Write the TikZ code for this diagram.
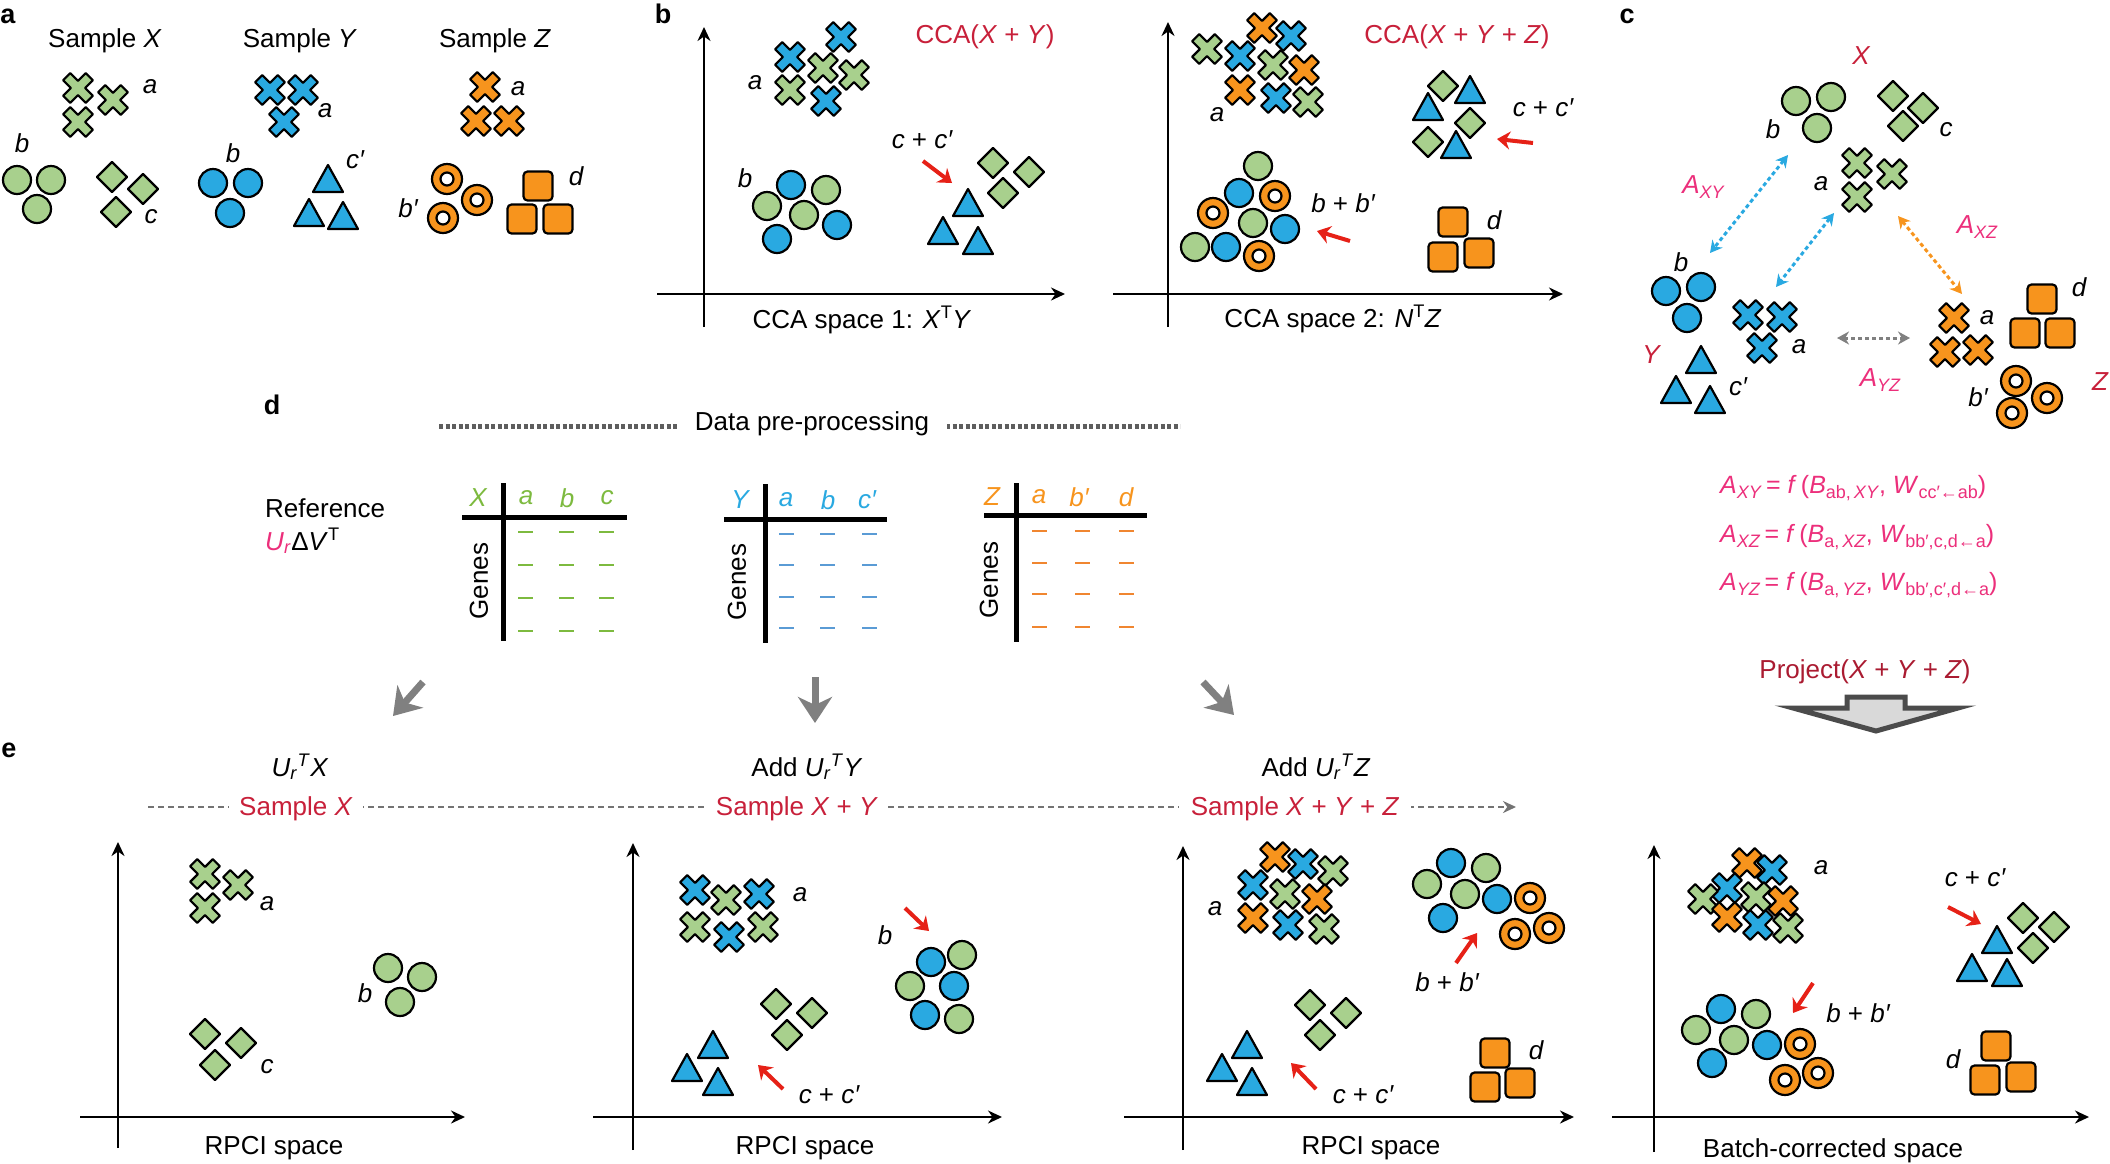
\documentclass[tikz,border=0pt]{standalone}
\usepackage{fontspec}
\setmainfont{Liberation Sans}
\usepackage{xcolor}
\usetikzlibrary{arrows.meta}

\definecolor{grn}{HTML}{A8D08D}
\definecolor{blu}{HTML}{29A9E1}
\definecolor{org}{HTML}{F7941D}
\definecolor{crim}{HTML}{C8203A}
\definecolor{pnk}{HTML}{EC2F7B}
\definecolor{arred}{HTML}{E62117}
\definecolor{tgrn}{HTML}{7DBA3F}
\definecolor{tblu}{HTML}{5A9BD5}
\definecolor{torg}{HTML}{F08630}
\definecolor{dgray}{HTML}{5E5E5E}
\definecolor{lgray}{HTML}{D9D9D9}

\newcommand{\sbs}[1]{\raisebox{-5pt}{\fontsize{18}{20}\selectfont #1}}
\newcommand{\UrT}{\textit{U}\textsubscript{\textit{r}}\textsuperscript{\textit{T}}}

\begin{document}
\begin{tikzpicture}[x=1pt, y=-1pt,
    txt/.style={font=\fontsize{26}{30}\selectfont, inner sep=0pt},
    lab/.style={font=\fontsize{26}{30}\selectfont\itshape, inner sep=0pt},
    pnl/.style={font=\fontsize{27}{30}\selectfont\bfseries, inner sep=0pt},
    eqn/.style={font=\fontsize{25}{30}\selectfont, text=pnk, inner sep=0pt, anchor=base west},
    mk/.style={draw=black, line width=2.2pt, line join=round},
    axis/.style={line width=2.6pt, -{Stealth[length=14pt,width=13pt]}},
    redar/.style={draw=arred, line width=4pt, -{Stealth[length=13pt,width=18pt]}},
    dbl/.style={line width=3pt, dash pattern=on 4pt off 3pt, {Stealth[length=12pt,width=13pt]}-{Stealth[length=12pt,width=13pt]}},
    grar/.style={draw=gray, line width=7pt, -{Stealth[length=26pt,width=34pt,inset=8pt]}},
    cell/.style={line width=2.5pt},
    pics/xc/.style={code={\draw[mk, fill=#1, rotate=45] (-5,-16) -- (5,-16) -- (5,-5) -- (16,-5) -- (16,5) -- (5,5) -- (5,16) -- (-5,16) -- (-5,5) -- (-16,5) -- (-16,-5) -- (-5,-5) -- cycle;}},
    pics/ci/.style={code={\draw[mk, fill=#1] (0,0) circle (14pt);}},
    pics/rg/.style={code={\draw[mk, fill=#1] (0,0) circle (15pt); \draw[mk, fill=white] (0,0) circle (6.5pt);}},
    pics/dm/.style={code={\draw[mk, fill=#1] (0,-15) -- (15,0) -- (0,15) -- (-15,0) -- cycle;}},
    pics/tr/.style={code={\draw[mk, fill=#1] (-15,12) -- (15,12) -- (0,-15) -- cycle;}},
    pics/sq/.style={code={\draw[mk, fill=#1, rounded corners=4pt] (-14.5,-14.5) rectangle (14.5,14.5);}}]

    \path[use as bounding box, fill=white] (0,0) rectangle (2110,1163);

    % panel a
    \node[pnl] (pa) at (8,16) {a};
    \node[txt, anchor=base] (ttlX) at (105,47) {Sample \textit{X}};
    \node[txt, anchor=base] (ttlY) at (300,47) {Sample \textit{Y}};
    \node[txt, anchor=base] (ttlZ) at (495,47) {Sample \textit{Z}};

    \pic at (78,88) {xc=grn};
    \pic at (113,100) {xc=grn};
    \pic at (78,122) {xc=grn};
    \node[lab] (axa) at (150,87) {a};
    \pic at (17,180) {ci=grn};
    \pic at (51,180) {ci=grn};
    \pic at (37,209) {ci=grn};
    \node[lab] (axb) at (22,143) {b};
    \pic at (112,177) {dm=grn};
    \pic at (143,189) {dm=grn};
    \pic at (116,212) {dm=grn};
    \node[lab] (axc) at (151,217) {c};

    \pic at (270,90) {xc=blu};
    \pic at (303,90) {xc=blu};
    \pic at (284,122) {xc=blu};
    \node[lab] (aya) at (325,111) {a};
    \pic at (213,183) {ci=blu};
    \pic at (248,183) {ci=blu};
    \pic at (230,213) {ci=blu};
    \node[lab] (ayb) at (233,153) {b};
    \pic at (328,180) {tr=blu};
    \pic at (309,214) {tr=blu};
    \pic at (343,217) {tr=blu};
    \node[lab] (ayc) at (355,160) {c′};

    \pic at (485,87) {xc=org};
    \pic at (476,121) {xc=org};
    \pic at (509,121) {xc=org};
    \node[lab] (aza) at (518,89) {a};
    \pic at (447,179) {rg=org};
    \pic at (477,200) {rg=org};
    \pic at (443,218) {rg=org};
    \node[lab] (azb) at (408,208) {b′};
    \pic at (538,186) {sq=org};
    \pic at (522,219) {sq=org};
    \pic at (558,219) {sq=org};
    \node[lab] (azd) at (576,176) {d};

    % panel b
    \node[pnl] (pb) at (663,14) {b};
    \draw[axis] (704,327) -- (704,27);
    \draw[axis] (657,294) -- (1065,294);
    \node[txt, anchor=base, text=crim] (cca1) at (985,43) {CCA(\textit{X} + \textit{Y})};
    \node[txt, anchor=base] (sp1) at (862,328) {CCA space 1: \textit{X}\textsuperscript{T}\textit{Y}};

    \pic at (841,37) {xc=blu};
    \pic at (790,57) {xc=blu};
    \pic at (823,68) {xc=grn};
    \pic at (854,75) {xc=grn};
    \pic at (790,90) {xc=grn};
    \pic at (826,101) {xc=blu};
    \node[lab] (b1a) at (755,83) {a};
    \pic at (791,185) {ci=blu};
    \pic at (826,190) {ci=grn};
    \pic at (767,206) {ci=grn};
    \pic at (804,215) {ci=grn};
    \pic at (837,225) {ci=blu};
    \pic at (777,239) {ci=blu};
    \node[lab] (b1b) at (745,178) {b};
    \pic at (993,163) {dm=grn};
    \pic at (1029,172) {dm=grn};
    \pic at (1003,193) {dm=grn};
    \pic at (968,204) {tr=blu};
    \pic at (943,232) {tr=blu};
    \pic at (978,242) {tr=blu};
    \node[lab] (b1c) at (922,140) {c \upshape+ \itshape c′};
    \coordinate (rb1s) at (923,161);
    \coordinate (rb1e) at (952,183);
    \draw[redar] (rb1s) -- (rb1e);

    \draw[axis] (1168,327) -- (1168,22);
    \draw[axis] (1113,294) -- (1563,294);
    \node[txt, anchor=base, text=crim] (cca2) at (1457,43) {CCA(\textit{X} + \textit{Y} + \textit{Z})};
    \node[txt, anchor=base] (sp2) at (1333,327) {CCA space 2: \textit{N}\textsuperscript{T}\textit{Z}};

    \pic at (1262,28) {xc=org};
    \pic at (1291,36) {xc=blu};
    \pic at (1207,49) {xc=grn};
    \pic at (1240,56) {xc=blu};
    \pic at (1273,65) {xc=grn};
    \pic at (1304,70) {xc=org};
    \pic at (1240,90) {xc=org};
    \pic at (1276,98) {xc=blu};
    \pic at (1308,102) {xc=grn};
    \node[lab] (b2a) at (1217,115) {a};
    \pic at (1443,86) {dm=grn};
    \pic at (1470,123) {dm=grn};
    \pic at (1428,142) {dm=grn};
    \pic at (1470,91) {tr=blu};
    \pic at (1428,108) {tr=blu};
    \pic at (1456,146) {tr=blu};
    \node[lab] (b2c) at (1543,108) {c \upshape+ \itshape c′};
    \coordinate (rb2s) at (1533,143);
    \coordinate (rb2e) at (1497,139);
    \draw[redar] (rb2s) -- (rb2e);
    \pic at (1258,166) {ci=grn};
    \pic at (1239,193) {ci=blu};
    \pic at (1275,196) {rg=org};
    \pic at (1213,213) {rg=org};
    \pic at (1253,223) {ci=grn};
    \pic at (1285,229) {ci=blu};
    \pic at (1195,247) {ci=grn};
    \pic at (1226,247) {ci=blu};
    \pic at (1259,256) {rg=org};
    \node[lab] (b2b) at (1343,203) {b \upshape+ \itshape b′};
    \coordinate (rb3s) at (1350,241);
    \coordinate (rb3e) at (1317,231);
    \draw[redar] (rb3s) -- (rb3e);
    \pic at (1453,222) {sq=org};
    \pic at (1443,257) {sq=org};
    \pic at (1479,253) {sq=org};
    \node[lab] (b2d) at (1494,220) {d};

    % panel c
    \node[pnl] (pc) at (1627,16) {c};
    \node[lab, text=crim] (cX) at (1861,56) {X};
    \pic at (1796,101) {ci=grn};
    \pic at (1831,97) {ci=grn};
    \pic at (1817,128) {ci=grn};
    \node[lab] (cxb) at (1773,129) {b};
    \pic at (1893,96) {dm=grn};
    \pic at (1923,108) {dm=grn};
    \pic at (1903,126) {dm=grn};
    \node[lab] (cxc) at (1946,130) {c};
    \pic at (1857,163) {xc=grn};
    \pic at (1892,174) {xc=grn};
    \pic at (1857,197) {xc=grn};
    \node[lab] (cxa) at (1821,184) {a};

    \node[lab, text=crim] (cY) at (1651,355) {Y};
    \node[lab] (cyb) at (1681,262) {b};
    \pic at (1666,291) {ci=blu};
    \pic at (1701,287) {ci=blu};
    \pic at (1687,318) {ci=blu};
    \pic at (1748,315) {xc=blu};
    \pic at (1782,317) {xc=blu};
    \pic at (1762,348) {xc=blu};
    \node[lab] (cya) at (1799,347) {a};
    \pic at (1701,361) {tr=blu};
    \pic at (1676,391) {tr=blu};
    \pic at (1710,401) {tr=blu};
    \node[lab] (cyc) at (1738,387) {c′};

    \node[lab, text=crim] (cZ) at (2100,382) {Z};
    \pic at (1954,318) {xc=org};
    \pic at (1945,352) {xc=org};
    \pic at (1978,350) {xc=org};
    \node[lab] (cza) at (1987,318) {a};
    \pic at (2042,299) {sq=org};
    \pic at (2025,333) {sq=org};
    \pic at (2060,333) {sq=org};
    \node[lab] (czd) at (2079,287) {d};
    \pic at (2016,381) {rg=org};
    \pic at (2047,398) {rg=org};
    \pic at (2012,413) {rg=org};
    \node[lab] (czb) at (1978,397) {b′};

    \coordinate (dxy1) at (1788,155);
    \coordinate (dxy2) at (1710,253);
    \coordinate (dxy3) at (1834,213);
    \coordinate (dxy4) at (1776,287);
    \coordinate (dxz1) at (1898,216);
    \coordinate (dxz2) at (1962,294);
    \coordinate (dyz1) at (1837,338);
    \coordinate (dyz2) at (1910,338);
    \draw[dbl, draw=blu] (dxy1) -- (dxy2);
    \draw[dbl, draw=blu] (dxy3) -- (dxy4);
    \draw[dbl, draw=org] (dxz1) -- (dxz2);
    \draw[dbl, draw=gray] (dyz1) -- (dyz2);
    \node[lab, text=pnk] (axy) at (1703,187) {A\sbs{XY}};
    \node[lab, text=pnk] (axz) at (1977,227) {A\sbs{XZ}};
    \node[lab, text=pnk] (ayz) at (1880,380) {A\sbs{YZ}};

    \node[eqn] (eq1) at (1720,493) {\textit{A}\sbs{\textit{XY}}\,= \textit{f}\,(\textit{B}\sbs{ab,\,\textit{XY}}, \textit{W}\sbs{cc′←ab})};
    \node[eqn] (eq2) at (1720,542) {\textit{A}\sbs{\textit{XZ}}\,= \textit{f}\,(\textit{B}\sbs{a,\,\textit{XZ}}, \textit{W}\sbs{bb′,c,d←a})};
    \node[eqn] (eq3) at (1720,590) {\textit{A}\sbs{\textit{YZ}}\,= \textit{f}\,(\textit{B}\sbs{a,\,\textit{YZ}}, \textit{W}\sbs{bb′,c′,d←a})};
    \node[txt, anchor=base, text=crim!85!black] (proj) at (1865,678) {Project(\textit{X} + \textit{Y} + \textit{Z})};
    \draw[line width=5pt, draw=dgray!80!black, fill=lgray, line join=miter]
        (1847,697) -- (1905,697) -- (1905,708) -- (1958,708) -- (1876,731) -- (1793,708) -- (1847,708) -- cycle;

    % panel d
    \node[pnl] (pd) at (272,405) {d};
    \coordinate (dp0) at (439,426);
    \coordinate (dp1) at (1180,426);
    \draw[dgray, line width=5pt, dash pattern=on 4pt off 2.5pt] (dp0) -- (dp1);
    \node[txt, anchor=base, fill=white, inner xsep=18pt] (prep) at (812,430) {Data pre-processing};
    \node[txt, anchor=base west] (refr) at (265,517) {Reference};
    \node[txt, anchor=base west] (svd) at (265,550) {\textcolor{pnk}{\textit{U}\textsubscript{\textit{r}}}Δ\textit{V}\textsuperscript{T}};

    \draw[line width=5pt] (503,483) -- (503,641);
    \draw[line width=5pt] (462,517) -- (627,517);
    \node[lab, text=tgrn] (hXX) at (478,498) {X};
    \node[lab, text=tgrn] (hXa) at (526,498) {a};
    \node[lab, text=tgrn] (hXb) at (567,498) {b};
    \node[lab, text=tgrn] (hXc) at (607,498) {c};
    \node[txt, rotate=90] (gX) at (479,581) {Genes};
    \draw[cell, tgrn] (518,532) -- ++(15,0) (559,532) -- ++(15,0) (599,532) -- ++(15,0);
    \draw[cell, tgrn] (518,565) -- ++(15,0) (559,565) -- ++(15,0) (599,565) -- ++(15,0);
    \draw[cell, tgrn] (518,598) -- ++(15,0) (559,598) -- ++(15,0) (599,598) -- ++(15,0);
    \draw[cell, tgrn] (518,631) -- ++(15,0) (559,631) -- ++(15,0) (599,631) -- ++(15,0);

    \draw[line width=5pt] (765,484) -- (765,643);
    \draw[line width=5pt] (724,519) -- (887,519);
    \node[lab, text=blu] (hYY) at (740,500) {Y};
    \node[lab, text=blu] (hYa) at (786,500) {a};
    \node[lab, text=blu] (hYb) at (828,500) {b};
    \node[lab, text=blu] (hYc) at (867,500) {c′};
    \node[txt, rotate=90] (gY) at (737,582) {Genes};
    \draw[cell, tblu] (779,534) -- ++(15,0) (820,534) -- ++(15,0) (862,534) -- ++(15,0);
    \draw[cell, tblu] (779,565) -- ++(15,0) (820,565) -- ++(15,0) (862,565) -- ++(15,0);
    \draw[cell, tblu] (779,597) -- ++(15,0) (820,597) -- ++(15,0) (862,597) -- ++(15,0);
    \draw[cell, tblu] (779,628) -- ++(15,0) (820,628) -- ++(15,0) (862,628) -- ++(15,0);

    \draw[line width=5pt] (1016,483) -- (1016,642);
    \draw[line width=5pt] (984,515) -- (1147,515);
    \node[lab, text=org] (hZZ) at (992,497) {Z};
    \node[lab, text=org] (hZa) at (1039,497) {a};
    \node[lab, text=org] (hZb) at (1079,497) {b′};
    \node[lab, text=org] (hZd) at (1126,497) {d};
    \node[txt, rotate=90] (gZ) at (989,580) {Genes};
    \draw[cell, torg] (1032,531) -- ++(15,0) (1075,531) -- ++(15,0) (1119,531) -- ++(15,0);
    \draw[cell, torg] (1032,563) -- ++(15,0) (1075,563) -- ++(15,0) (1119,563) -- ++(15,0);
    \draw[cell, torg] (1032,594) -- ++(15,0) (1075,594) -- ++(15,0) (1119,594) -- ++(15,0);
    \draw[cell, torg] (1032,627) -- ++(15,0) (1075,627) -- ++(15,0) (1119,627) -- ++(15,0);

    \coordinate (ga1s) at (423,682);
    \coordinate (ga1e) at (393,716);
    \coordinate (ga2s) at (815,677);
    \coordinate (ga2e) at (815,723);
    \coordinate (ga3s) at (1203,682);
    \coordinate (ga3e) at (1234,715);
    \draw[grar] (ga1s) -- (ga1e);
    \draw[grar] (ga2s) -- (ga2e);
    \draw[grar] (ga3s) -- (ga3e);

    % panel e
    \node[pnl] (pe) at (9,750) {e};
    \coordinate (dl0) at (148,807);
    \coordinate (dl1) at (1516,807);
    \draw[gray!90!black, line width=2pt, dash pattern=on 6pt off 4pt, -{Stealth[length=13pt,width=12pt]}] (dl0) -- (dl1);
    \node[txt, anchor=base] (st1) at (300,776) {\UrT\textit{X}};
    \node[txt, anchor=base] (st2) at (807,776) {Add \UrT\textit{Y}};
    \node[txt, anchor=base] (st3) at (1316,776) {Add \UrT\textit{Z}};
    \node[txt, anchor=base, text=crim, fill=white, inner xsep=10pt, inner ysep=2pt] (sm1) at (296,815) {Sample \textit{X}};
    \node[txt, anchor=base, text=crim, fill=white, inner xsep=10pt, inner ysep=2pt] (sm2) at (797,815) {Sample \textit{X} + \textit{Y}};
    \node[txt, anchor=base, text=crim, fill=white, inner xsep=12pt, inner ysep=2pt] (sm3) at (1295,815) {Sample \textit{X} + \textit{Y} + \textit{Z}};

    \draw[axis] (118,1148) -- (118,842);
    \draw[axis] (80,1117) -- (465,1117);
    \node[txt, anchor=base] (rp1) at (274,1154) {RPCI space};
    \pic at (205,874) {xc=grn};
    \pic at (238,885) {xc=grn};
    \pic at (205,908) {xc=grn};
    \node[lab] (e1a) at (267,904) {a};
    \pic at (388,968) {ci=grn};
    \pic at (422,977) {ci=grn};
    \pic at (400,1002) {ci=grn};
    \node[lab] (e1b) at (365,993) {b};
    \pic at (205,1034) {dm=grn};
    \pic at (241,1043) {dm=grn};
    \pic at (215,1065) {dm=grn};
    \node[lab] (e1c) at (267,1067) {c};

    \draw[axis] (633,1150) -- (633,843);
    \draw[axis] (593,1117) -- (1002,1117);
    \node[txt, anchor=base] (rp2) at (805,1154) {RPCI space};
    \pic at (695,890) {xc=blu};
    \pic at (726,900) {xc=grn};
    \pic at (759,894) {xc=blu};
    \pic at (695,927) {xc=grn};
    \pic at (729,937) {xc=blu};
    \pic at (763,927) {xc=grn};
    \node[lab] (e2a) at (800,895) {a};
    \node[lab] (e2b) at (885,935) {b};
    \coordinate (re1s) at (905,908);
    \coordinate (re1e) at (929,931);
    \draw[redar] (re1s) -- (re1e);
    \pic at (931,962) {ci=blu};
    \pic at (962,955) {ci=grn};
    \pic at (910,986) {ci=grn};
    \pic at (954,986) {ci=blu};
    \pic at (925,1015) {ci=blu};
    \pic at (959,1019) {ci=grn};
    \pic at (776,1004) {dm=grn};
    \pic at (812,1013) {dm=grn};
    \pic at (787,1035) {dm=grn};
    \pic at (713,1046) {tr=blu};
    \pic at (687,1069) {tr=blu};
    \pic at (718,1083) {tr=blu};
    \coordinate (re2s) at (783,1089);
    \coordinate (re2e) at (758,1065);
    \draw[redar] (re2s) -- (re2e);
    \node[lab] (e2c) at (829,1095) {c \upshape+ \itshape c′};

    \draw[axis] (1183,1150) -- (1183,846);
    \draw[axis] (1124,1117) -- (1574,1117);
    \node[txt, anchor=base] (rp3) at (1371,1154) {RPCI space};
    \pic at (1275,857) {xc=org};
    \pic at (1303,864) {xc=blu};
    \pic at (1333,871) {xc=grn};
    \pic at (1253,885) {xc=blu};
    \pic at (1285,894) {xc=grn};
    \pic at (1317,899) {xc=org};
    \pic at (1253,918) {xc=org};
    \pic at (1288,925) {xc=blu};
    \pic at (1324,929) {xc=grn};
    \node[lab] (e3a) at (1215,909) {a};
    \pic at (1451,863) {ci=blu};
    \pic at (1486,868) {ci=grn};
    \pic at (1427,884) {ci=grn};
    \pic at (1465,894) {ci=grn};
    \pic at (1497,899) {ci=blu};
    \pic at (1443,918) {ci=blu};
    \pic at (1530,898) {rg=org};
    \pic at (1515,934) {rg=org};
    \pic at (1549,928) {rg=org};
    \coordinate (re3s) at (1456,963);
    \coordinate (re3e) at (1477,933);
    \draw[redar] (re3s) -- (re3e);
    \node[lab] (e3b) at (1447,982) {b \upshape+ \itshape b′};
    \pic at (1310,1005) {dm=grn};
    \pic at (1346,1013) {dm=grn};
    \pic at (1320,1035) {dm=grn};
    \pic at (1247,1046) {tr=blu};
    \pic at (1222,1069) {tr=blu};
    \pic at (1252,1083) {tr=blu};
    \coordinate (re4s) at (1316,1089);
    \coordinate (re4e) at (1291,1063);
    \draw[redar] (re4s) -- (re4e);
    \node[lab] (e3c) at (1363,1095) {c \upshape+ \itshape c′};
    \pic at (1495,1053) {sq=org};
    \pic at (1485,1087) {sq=org};
    \pic at (1520,1083) {sq=org};
    \node[lab] (e3d) at (1536,1050) {d};

    \draw[axis] (1654,1152) -- (1654,845);
    \draw[axis] (1612,1117) -- (2089,1117);
    \node[txt, anchor=base] (bcs) at (1833,1157) {Batch-corrected space};
    \pic at (1747,863) {xc=org};
    \pic at (1772,870) {xc=blu};
    \pic at (1727,888) {xc=blu};
    \pic at (1703,899) {xc=grn};
    \pic at (1756,897) {xc=grn};
    \pic at (1783,901) {xc=org};
    \pic at (1727,917) {xc=org};
    \pic at (1758,925) {xc=blu};
    \pic at (1788,928) {xc=grn};
    \node[lab] (e4a) at (1821,868) {a};
    \node[lab] (e4c) at (1975,878) {c \upshape+ \itshape c′};
    \coordinate (re5s) at (1948,907);
    \coordinate (re5e) at (1981,924);
    \draw[redar] (re5s) -- (re5e);
    \pic at (2023,918) {dm=grn};
    \pic at (2054,927) {dm=grn};
    \pic at (2033,948) {dm=grn};
    \pic at (1997,941) {tr=blu};
    \pic at (1972,969) {tr=blu};
    \pic at (2007,974) {tr=blu};
    \coordinate (re6s) at (1813,983);
    \coordinate (re6e) at (1793,1013);
    \draw[redar] (re6s) -- (re6e);
    \node[lab] (e4b) at (1858,1013) {b \upshape+ \itshape b′};
    \pic at (1721,1009) {ci=blu};
    \pic at (1756,1014) {ci=grn};
    \pic at (1696,1030) {ci=grn};
    \pic at (1734,1040) {ci=grn};
    \pic at (1767,1045) {ci=blu};
    \pic at (1712,1063) {ci=blu};
    \pic at (1800,1044) {rg=org};
    \pic at (1785,1080) {rg=org};
    \pic at (1818,1073) {rg=org};
    \pic at (1996,1046) {sq=org};
    \pic at (1985,1080) {sq=org};
    \pic at (2021,1077) {sq=org};
    \node[lab] (e4d) at (1953,1059) {d};
\end{tikzpicture}
\end{document}
